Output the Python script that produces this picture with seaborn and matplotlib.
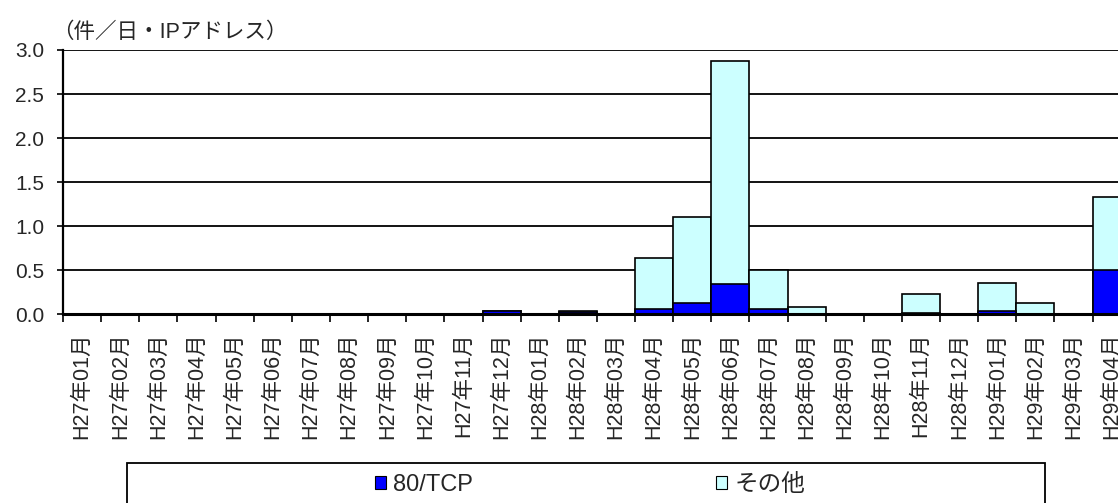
import numpy as np
import pandas as pd
import matplotlib
matplotlib.use("Agg")
import matplotlib.pyplot as plt
from matplotlib.patches import Rectangle, Patch
import seaborn as sns

# Monthly labels (Heisei era)
months = [
    "H27年01月", "H27年02月", "H27年03月", "H27年04月", "H27年05月", "H27年06月",
    "H27年07月", "H27年08月", "H27年09月", "H27年10月", "H27年11月", "H27年12月",
    "H28年01月", "H28年02月", "H28年03月", "H28年04月", "H28年05月", "H28年06月",
    "H28年07月", "H28年08月", "H28年09月", "H28年10月", "H28年11月", "H28年12月",
    "H29年01月", "H29年02月", "H29年03月", "H29年04月",
]

# Accesses per day per IP address
tcp80 = [0, 0, 0, 0, 0, 0, 0, 0, 0, 0, 0, 0.04,
         0.005, 0.03, 0, 0.065, 0.135, 0.35,
         0.06, 0.005, 0, 0.002, 0.02, 0,
         0.045, 0.008, 0.005, 0.50]
other = [0, 0, 0, 0, 0, 0, 0, 0, 0, 0, 0, 0.0,
         0.005, 0.005, 0, 0.575, 0.975, 2.52,
         0.45, 0.08, 0, 0.008, 0.21, 0,
         0.31, 0.127, 0.005, 0.83]

series_names = ["80/TCP", "その他"]
unit_label = "（件／日・IPアドレス）"
yticks = [0.0, 0.5, 1.0, 1.5, 2.0, 2.5, 3.0]

BLUE = "#0000FF"
CYAN = "#CCFFFF"

sns.set_style("white")
plt.rcParams["font.family"] = ["Liberation Sans", "Noto Sans CJK JP", "DejaVu Sans"]

df = pd.DataFrame({"month": months, "tcp80": tcp80, "other": other})
df["total"] = df["tcp80"] + df["other"]

fig = plt.figure(figsize=(11.18, 5.03), dpi=100)
ax = fig.add_axes([0.0564, 0.3748, 0.955, 0.5258])

# stacked bars: full height in cyan, 80/TCP part drawn over it from zero
sns.barplot(data=df, x="month", y="total", color=CYAN, width=1.0,
            edgecolor="black", linewidth=1.2, saturation=1, ax=ax, zorder=3)
sns.barplot(data=df, x="month", y="tcp80", color=BLUE, width=1.0,
            edgecolor="black", linewidth=1.2, saturation=1, ax=ax, zorder=4)

ax.set_xlim(-0.5, len(months) - 0.5)
ax.set_ylim(0, 3.0)
ax.set_yticks(yticks)
ax.set_yticklabels([f"{v:.1f}" for v in yticks])
ax.set_xlabel("")
ax.set_ylabel("")

ax.yaxis.grid(True, color="black", linewidth=1.3, zorder=1)
ax.set_axisbelow(True)
for s in ["top", "right"]:
    ax.spines[s].set_visible(False)
ax.spines["left"].set_color("black")
ax.spines["left"].set_linewidth(1.6)
ax.spines["bottom"].set_color("black")
ax.spines["bottom"].set_linewidth(2.2)
ax.spines["bottom"].set_zorder(6)

ax.tick_params(axis="y", which="major", direction="out", length=4.5, width=1.2,
               color="black", pad=9, labelsize=15, left=True)
# category labels centred, tick marks on the boundaries
ax.set_xticks(np.arange(len(months)))
ax.set_xticklabels(months, rotation=90, fontsize=15.5)
ax.set_xticks(np.arange(-0.5, len(months), 1.0), minor=True)
ax.tick_params(axis="x", which="major", length=0, pad=13, bottom=True)
ax.tick_params(axis="x", which="minor", direction="out", length=5.5, width=1.2,
               color="black", bottom=True)

fig.text(0.0465, 0.936, unit_label, fontsize=15.5, ha="left", va="center")

# legend frame along the bottom
fig.patches.append(Rectangle((127 / 1118, -0.05), 918 / 1118, 0.05 + 40 / 503,
                             transform=fig.transFigure, fill=False,
                             edgecolor="black", linewidth=1.3))
handles = [Patch(facecolor=BLUE, edgecolor="black", linewidth=0.8),
           Patch(facecolor=CYAN, edgecolor="black", linewidth=0.8)]
fig.legend(handles, series_names, loc="center", bbox_to_anchor=(590 / 1118, 18 / 503),
           ncol=2, frameon=False, fontsize=17, handlelength=0.47, handleheight=0.47,
           handletextpad=0.3, columnspacing=10.3, borderpad=0)

fig.savefig("out.png", dpi=100)
